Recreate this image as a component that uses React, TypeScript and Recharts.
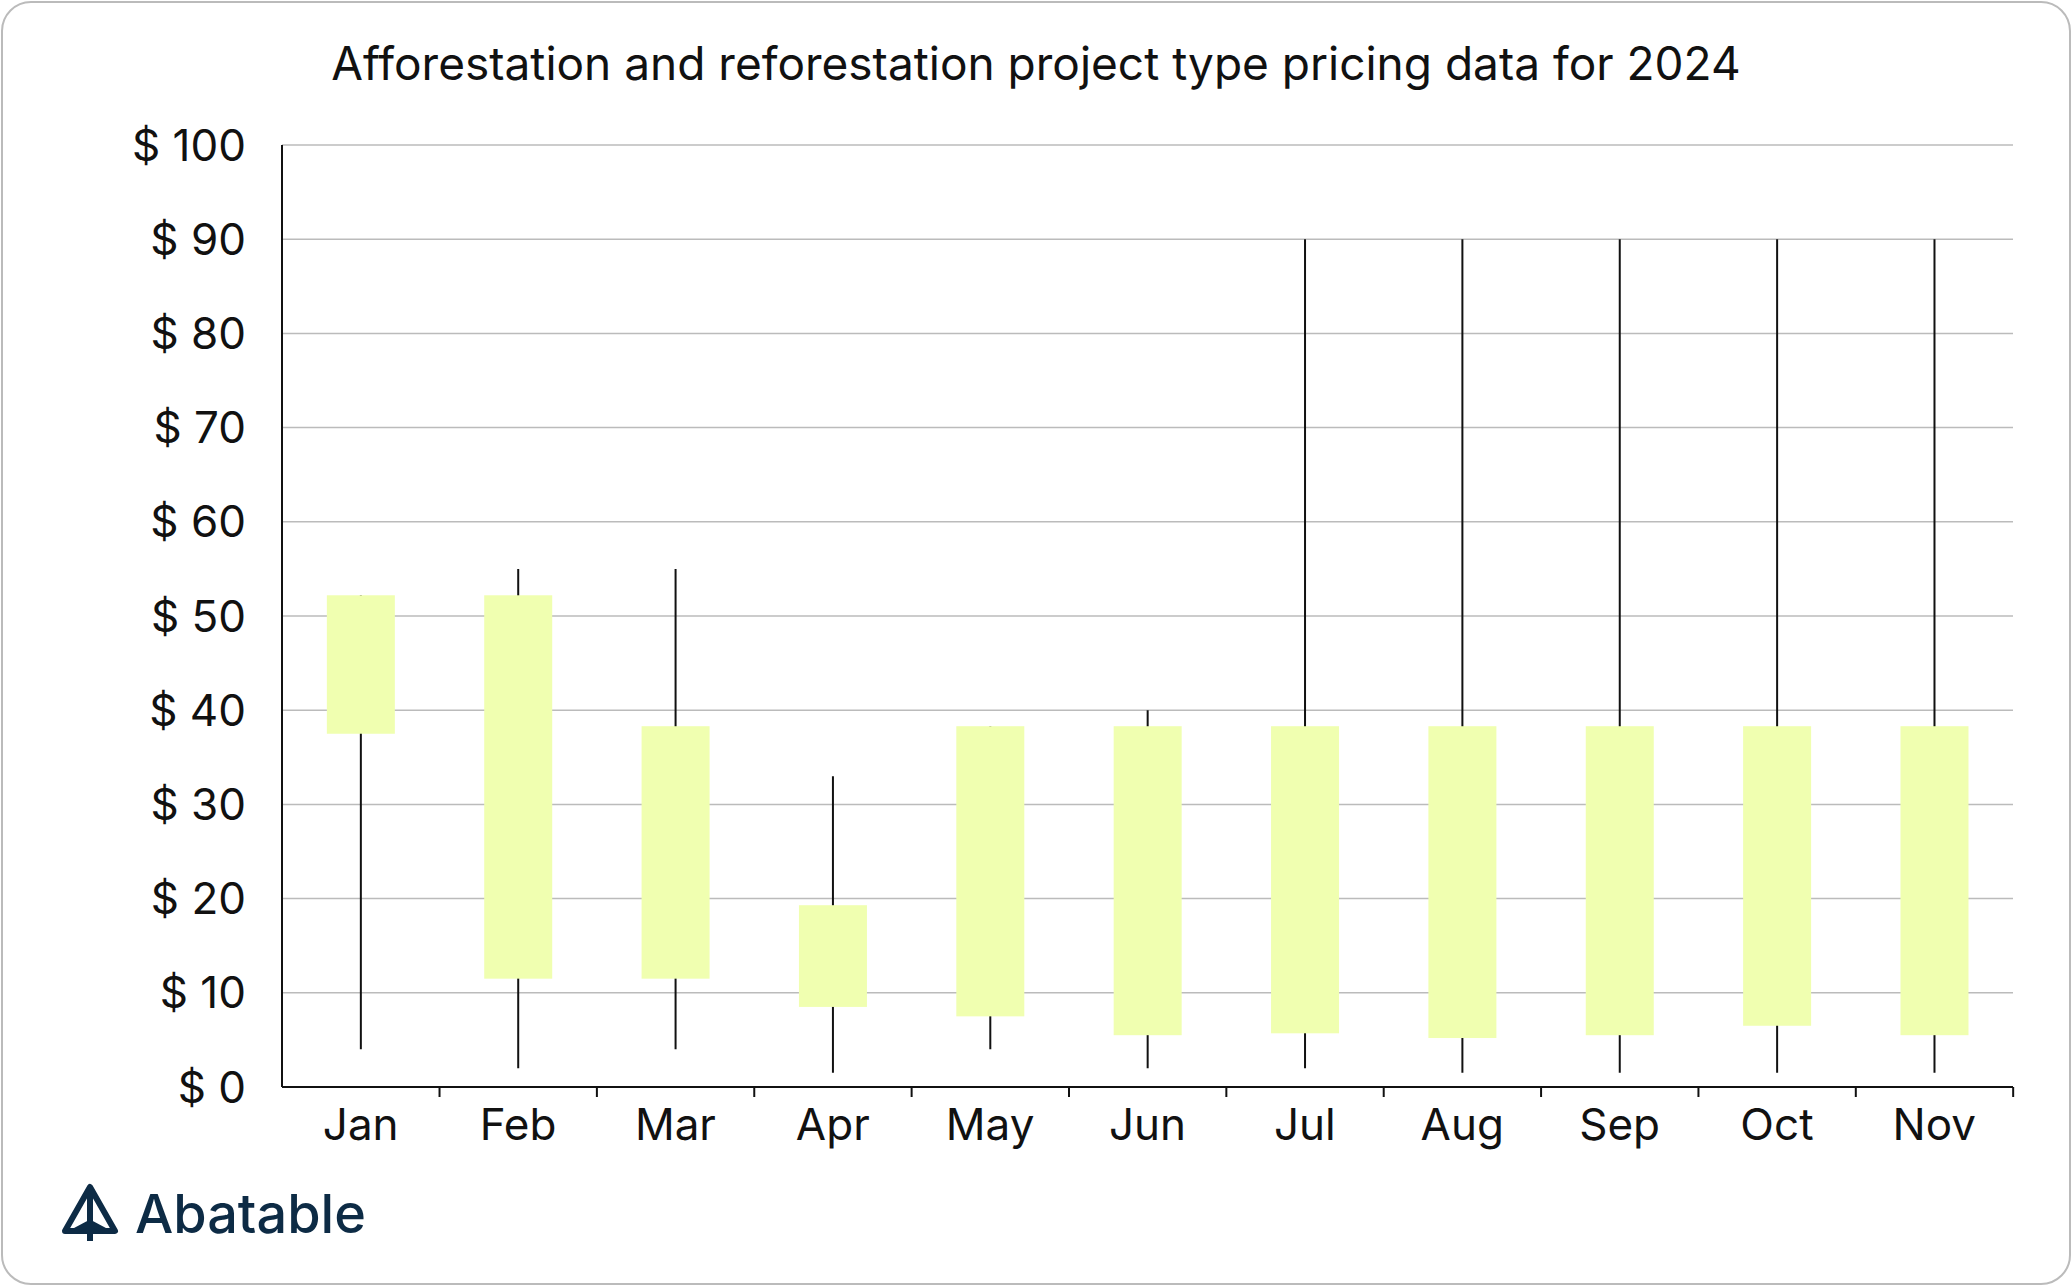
import React from "react";
import { ComposedChart, Bar, XAxis, YAxis, CartesianGrid } from "recharts";

const months = ["Jan","Feb","Mar","Apr","May","Jun","Jul","Aug","Sep","Oct","Nov"];
const lows = [4, 2, 4, 1.5, 4, 2, 2, 1.5, 1.5, 1.5, 1.5];
const highs = [52.2, 55, 55, 33, 38.3, 40, 90, 90, 90, 90, 90];
const boxLows = [37.5, 11.5, 11.5, 8.5, 7.5, 5.5, 5.7, 5.2, 5.5, 6.5, 5.5];
const boxHighs = [52.2, 52.2, 38.3, 19.3, 38.3, 38.3, 38.3, 38.3, 38.3, 38.3, 38.3];
const yTicks = [0, 10, 20, 30, 40, 50, 60, 70, 80, 90, 100];

const data = months.map((m, i) => ({
  month: m,
  whisker: [lows[i], highs[i]],
  boxLow: boxLows[i],
  boxHigh: boxHighs[i],
}));

const W = 2066, H = 1280;
const M = { top: 142, right: 56, bottom: 116, left: 129 };
const YW = 150, XH = 80;
const plotW = W - M.left - M.right - YW;
const band = plotW / months.length;
const axisY = H - M.bottom - XH;

const Candle = (p: any) => {
  const cx = p.x + p.width / 2;
  const [lo, hi] = p.payload.whisker;
  const k = p.height / (hi - lo);
  const by = p.y + (hi - p.payload.boxHigh) * k;
  const bh = (p.payload.boxHigh - p.payload.boxLow) * k;
  return (
    <g>
      <line x1={cx} x2={cx} y1={p.y} y2={p.y + p.height} stroke="#111" strokeWidth={2} />
      <rect x={p.x} y={by} width={p.width} height={bh} fill="#f0ffb0" />
      <line x1={cx + band / 2} x2={cx + band / 2} y1={axisY} y2={axisY + 10} stroke="#111" strokeWidth={2} />
    </g>
  );
};

export default function App() {
  return (
    <div style={{ position: "absolute", left: 1, top: 1, width: W, height: H, border: "2px solid #bbb", borderRadius: 30, background: "#fff", fontFamily: "Inter, sans-serif" }}>
      <div style={{ position: "absolute", top: 32, width: "100%", textAlign: "center", fontSize: 46, color: "#111" }}>
        Afforestation and reforestation project type pricing data for 2024
      </div>
      <ComposedChart width={W} height={H} data={data} margin={M} barCategoryGap="28.5%">
        <CartesianGrid vertical={false} stroke="#bbb" strokeWidth={1.5} />
        <XAxis dataKey="month" height={XH} tickLine={false} axisLine={{ stroke: "#111", strokeWidth: 2 }}
          tick={{ fontSize: 44, fill: "#111", fontFamily: "Inter" }} tickMargin={16} />
        <YAxis width={YW} domain={[0, 100]} ticks={yTicks} tickLine={false} axisLine={{ stroke: "#111", strokeWidth: 2 }}
          tickFormatter={(v) => `$ ${v}`} tick={{ fontSize: 44, fill: "#111", fontFamily: "Inter" }} tickMargin={30} interval={0} />
        <Bar dataKey="whisker" shape={<Candle />} isAnimationActive={false} />
      </ComposedChart>
      <div style={{ position: "absolute", left: 56, top: 1178, display: "flex", alignItems: "center", color: "#0d2b45" }}>
        <svg width="62" height="62" viewBox="0 0 62 62">
          <path d="M31 4 L56 48 L6 48 Z" fill="none" stroke="#0d2b45" strokeWidth="6" strokeLinejoin="round" />
          <path d="M31 4 L31 58 M31 40 L16 48 M31 40 L46 48" stroke="#0d2b45" strokeWidth="6" />
        </svg>
        <span style={{ fontSize: 54, fontWeight: 500, marginLeft: 14 }}>Abatable</span>
      </div>
    </div>
  );
}
